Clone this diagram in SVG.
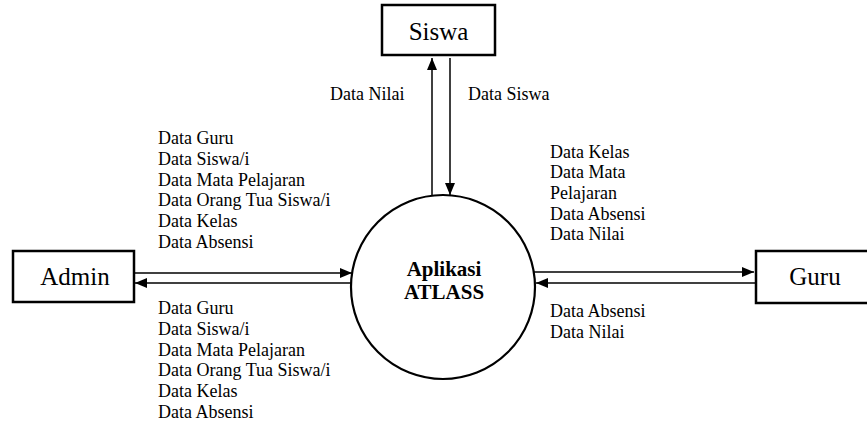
<svg xmlns="http://www.w3.org/2000/svg" width="867" height="425" viewBox="0 0 867 425">
<style>
.box{fill:#fff;stroke:#000;stroke-width:2.5}
.proc{fill:#fff;stroke:#000;stroke-width:2.2}
.ln{stroke:#000;stroke-width:1.5;fill:none}
text{font-family:'Liberation Serif','Times New Roman',Times,'DejaVu Serif',serif;fill:#000}
.lbl{font-size:18px}
.ent{font-size:25px}
.pt{font-size:21px;font-weight:bold}
</style>
<defs>
<marker id="ah" markerWidth="12" markerHeight="10" refX="12" refY="5" orient="auto" markerUnits="userSpaceOnUse">
<path d="M0,0 L12,5 L0,10 Z" fill="#000"/>
</marker>
</defs>
<rect width="867" height="425" fill="#fff"/>
<g id="connectors">
<line class="ln" x1="432" y1="196" x2="432" y2="58" marker-end="url(#ah)"/>
<line class="ln" x1="450" y1="58" x2="450" y2="195" marker-end="url(#ah)"/>
<line class="ln" x1="135" y1="273" x2="352" y2="273" marker-end="url(#ah)"/>
<line class="ln" x1="351" y1="283" x2="135" y2="283" marker-end="url(#ah)"/>
<line class="ln" x1="534" y1="272" x2="754" y2="272" marker-end="url(#ah)"/>
<line class="ln" x1="756" y1="283" x2="536" y2="283" marker-end="url(#ah)"/>
</g>
<g id="siswa">
<rect class="box" x="382" y="5" width="113" height="50"/>
<text class="ent" x="438.5" y="40" text-anchor="middle" font-family="Liberation Serif, serif">Siswa</text>
</g>
<g id="admin">
<rect class="box" x="13" y="251" width="121" height="51"/>
<text class="ent" x="75" y="285" text-anchor="middle" font-family="Liberation Serif, serif">Admin</text>
</g>
<g id="guru">
<rect class="box" x="756" y="251" width="125" height="52"/>
<text class="ent" x="815" y="285" text-anchor="middle" font-family="Liberation Serif, serif">Guru</text>
</g>
<g id="aplikasi">
<circle class="proc" cx="443" cy="287" r="92"/>
<text class="pt" x="444" y="276" text-anchor="middle" font-family="Liberation Serif, serif">Aplikasi</text>
<text class="pt" x="444" y="299" text-anchor="middle" font-family="Liberation Serif, serif">ATLASS</text>
</g>
<g id="labels" font-family="Liberation Serif, serif">
<text class="lbl" x="330" y="100">Data Nilai</text>
<text class="lbl" x="468" y="100">Data Siswa</text>
<text class="lbl" x="158" y="144">Data Guru</text>
<text class="lbl" x="158" y="165">Data Siswa/i</text>
<text class="lbl" x="158" y="186">Data Mata Pelajaran</text>
<text class="lbl" x="158" y="206">Data Orang Tua Siswa/i</text>
<text class="lbl" x="158" y="227">Data Kelas</text>
<text class="lbl" x="158" y="248">Data Absensi</text>
<text class="lbl" x="158" y="314">Data Guru</text>
<text class="lbl" x="158" y="335">Data Siswa/i</text>
<text class="lbl" x="158" y="356">Data Mata Pelajaran</text>
<text class="lbl" x="158" y="376">Data Orang Tua Siswa/i</text>
<text class="lbl" x="158" y="397">Data Kelas</text>
<text class="lbl" x="158" y="418">Data Absensi</text>
<text class="lbl" x="550" y="158">Data Kelas</text>
<text class="lbl" x="550" y="178">Data Mata</text>
<text class="lbl" x="550" y="199">Pelajaran</text>
<text class="lbl" x="550" y="220">Data Absensi</text>
<text class="lbl" x="550" y="240">Data Nilai</text>
<text class="lbl" x="550" y="317">Data Absensi</text>
<text class="lbl" x="550" y="338">Data Nilai</text>
</g>
</svg>
